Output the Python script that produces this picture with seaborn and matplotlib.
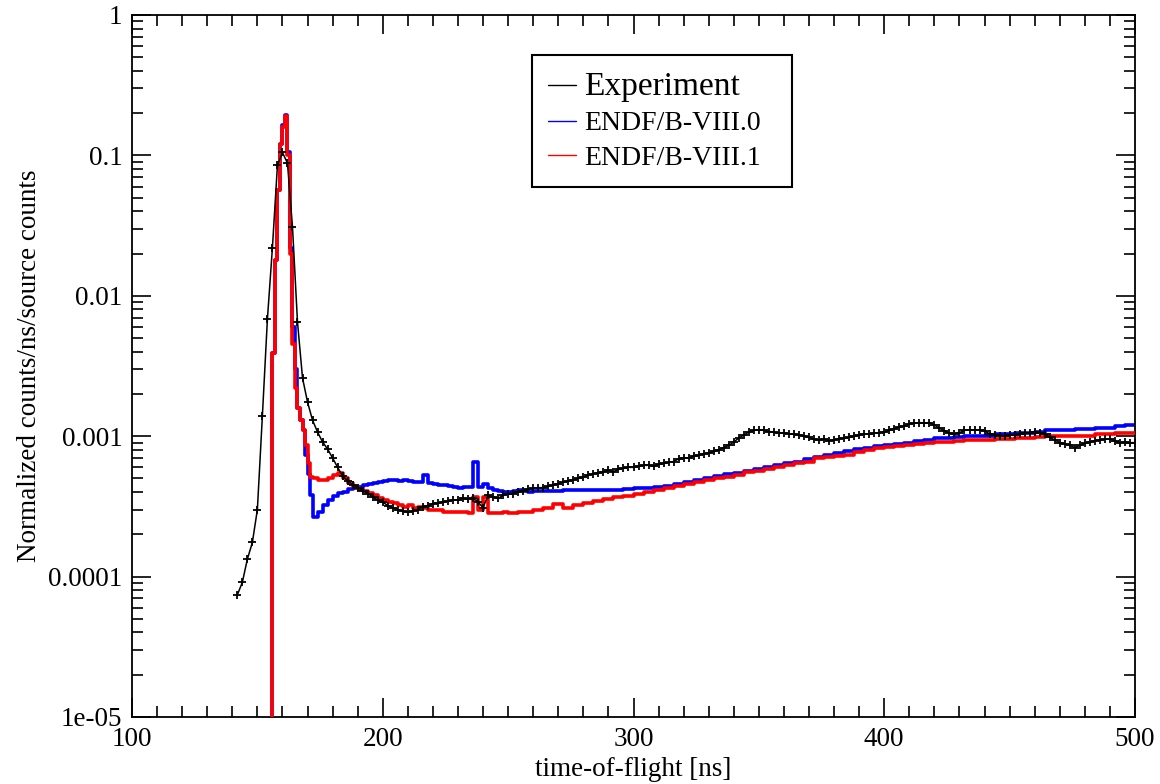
import numpy as np
import pandas as pd
import matplotlib
matplotlib.use("Agg")
import matplotlib.pyplot as plt
from matplotlib.lines import Line2D
from matplotlib.ticker import FixedLocator, MultipleLocator, LogLocator, NullFormatter, FuncFormatter
import seaborn as sns

# ---------------- data ----------------
# Experiment: 2 ns spacing, 142 .. 500 ns
exp_x = np.arange(142, 501, 2)
exp_y = [
    7.4e-5, 9.1e-5, 1.33e-4, 1.75e-4, 3.0e-4, 1.4e-3, 6.8e-3, 0.022, 0.085, 0.105,
    0.088, 0.031, 0.0065, 0.0026, 0.00175, 0.0013, 0.00107, 0.00091, 0.00081, 0.0007,
    0.0006, 0.00052, 0.00048, 0.00045, 0.00043, 0.00041, 0.00039, 0.00037, 0.00035, 0.00034,
    0.00032, 0.00031, 0.0003, 0.000292, 0.000287, 0.000295, 0.0003, 0.000315, 0.00032, 0.00033,
    0.000335, 0.00034, 0.000345, 0.00035, 0.000352, 0.00036, 0.000358, 0.000362, 0.00034, 0.00031,
    0.00038, 0.00037, 0.00036, 0.00038, 0.00039, 0.00039, 0.0004, 0.00041, 0.00042, 0.000425,
    0.00043, 0.00043, 0.00044, 0.00045, 0.00046, 0.00047, 0.00048, 0.00049, 0.0005, 0.00051,
    0.00053, 0.00054, 0.00055, 0.00056, 0.00057, 0.00056, 0.00058, 0.00059, 0.0006, 0.0006,
    0.00061, 0.00062, 0.00062, 0.00061, 0.00063, 0.00064, 0.00065, 0.00066, 0.00069, 0.0007,
    0.0007, 0.00072, 0.00073, 0.00075, 0.00076, 0.00078, 0.0008, 0.00083, 0.00086, 0.00091,
    0.00097, 0.00102, 0.00107, 0.0011, 0.00111, 0.0011, 0.00108, 0.00107, 0.00105, 0.00106,
    0.00104, 0.00103, 0.00102, 0.001, 0.00098, 0.00095, 0.00094, 0.00095, 0.00093, 0.00094,
    0.00096, 0.00097, 0.00098, 0.001, 0.00102, 0.00104, 0.00103, 0.00105, 0.00106, 0.00107,
    0.0011, 0.00113, 0.00116, 0.00118, 0.00122, 0.00124, 0.00125, 0.00124, 0.00125, 0.0012,
    0.00114, 0.00109, 0.00105, 0.00104, 0.00106, 0.0011, 0.00111, 0.0011, 0.00111, 0.00109,
    0.00104, 0.00102, 0.00101, 0.00101, 0.00102, 0.00102, 0.00104, 0.00106, 0.00105, 0.00107,
    0.00105, 0.00104, 0.00098, 0.00094, 0.0009, 0.00088, 0.00086, 0.00083, 0.00086, 0.00089,
    0.00091, 0.00093, 0.00094, 0.00095, 0.00096, 0.00092, 0.0009, 0.00091, 0.0009, 0.0009,
]

# Simulation histograms: bin left edges (1 ns, 2 ns, 4 ns widths), last edge 500 ns
bins_1ns = np.arange(155, 172, 1)
bins_2ns = np.arange(172, 260, 2)
bins_4ns = np.arange(260, 500, 4)
last_edge = 500

b80_1ns = [0, 0.0039, 0.018, 0.057, 0.12, 0.165, 0.195, 0.105, 0.022, 0.006, 0.003,
           0.0016, 0.0013, 0.0011, 0.00073, 0.00054, 0.00038]
b80_2ns = [0.000264, 0.00029, 0.000322, 0.000349, 0.000373, 0.000392, 0.000398, 0.000418, 0.000425, 0.000432,
           0.000447, 0.000455, 0.000462, 0.000469, 0.000477, 0.000485, 0.000485, 0.000477, 0.000485, 0.000477,
           0.000469, 0.000469, 0.000527, 0.000462, 0.000455, 0.000447, 0.000447, 0.00044, 0.000432, 0.000425,
           0.000432, 0.000432, 0.00065, 0.000432, 0.00046, 0.000425, 0.000412, 0.000405, 0.000398, 0.000398,
           0.000405, 0.000412, 0.000405, 0.000398]
b80_4ns = [0.000405, 0.000405, 0.000405, 0.000412, 0.000412, 0.000412, 0.000412, 0.000412, 0.000412, 0.000418,
           0.000425, 0.000425, 0.000432, 0.00044, 0.000455, 0.000469, 0.000485, 0.0005, 0.000518, 0.000535,
           0.000544, 0.000562, 0.00058, 0.0006, 0.00062, 0.000641, 0.00066, 0.000685, 0.000707, 0.000731,
           0.000755, 0.00078, 0.000807, 0.00082, 0.000847, 0.000861, 0.000876, 0.00089, 0.00092, 0.000935,
           0.000966, 0.000966, 0.000982, 0.000998, 0.000998, 0.00101, 0.00103, 0.00103, 0.00105, 0.00105,
           0.00107, 0.0011, 0.0011, 0.0011, 0.00112, 0.00112, 0.00114, 0.00114, 0.00118, 0.0012]

b81_1ns = [0, 0.0039, 0.018, 0.057, 0.12, 0.16, 0.19, 0.10, 0.02, 0.0045, 0.0022,
           0.0016, 0.0013, 0.0011, 0.00086, 0.00064, 0.00051]
b81_2ns = [0.0005, 0.000485, 0.000485, 0.0005, 0.000527, 0.000544, 0.0005, 0.000462, 0.000432, 0.00042,
           0.00041, 0.000392, 0.000379, 0.000361, 0.000349, 0.000338, 0.000333, 0.000322, 0.000311, 0.000322,
           0.000306, 0.000311, 0.000306, 0.000296, 0.000296, 0.000296, 0.000287, 0.000287, 0.000287, 0.000287,
           0.000287, 0.000282, 0.000367, 0.000296, 0.000367, 0.000282, 0.000282, 0.000282, 0.000287, 0.000282,
           0.000282, 0.000287, 0.000287, 0.000287]
b81_4ns = [0.0003, 0.000306, 0.000327, 0.000306, 0.000322, 0.000333, 0.000343, 0.000355, 0.000367, 0.000373,
           0.000385, 0.000398, 0.000412, 0.000425, 0.00044, 0.000455, 0.000469, 0.000485, 0.0005, 0.000509,
           0.000527, 0.000553, 0.000562, 0.00058, 0.0006, 0.00062, 0.000641, 0.00066, 0.000696, 0.000707,
           0.000719, 0.00074, 0.00077, 0.000794, 0.00082, 0.000834, 0.000847, 0.000861, 0.000876, 0.00089,
           0.000905, 0.000905, 0.00092, 0.000935, 0.000935, 0.000935, 0.00095, 0.00095, 0.000966, 0.000966,
           0.000982, 0.00101, 0.00101, 0.00101, 0.00101, 0.00101, 0.00103, 0.00103, 0.00105, 0.00105]

series_labels = ["Experiment", "ENDF/B-VIII.0", "ENDF/B-VIII.1"]
series_colors = ["black", "#0000ff", "#ff0000"]
ytick_vals = [1e-5, 1e-4, 1e-3, 1e-2, 1e-1, 1]
ytick_labels = ["1e-05", "0.0001", "0.001", "0.01", "0.1", "1"]
xtick_vals = [100, 200, 300, 400, 500]

assert len(exp_y) == len(exp_x)
edges = np.concatenate([bins_1ns, bins_2ns, bins_4ns])


def step_frame(v1, v2, v4):
    vals = list(v1) + list(v2) + list(v4)
    assert len(vals) == len(edges), (len(vals), len(edges))
    x = np.append(edges, last_edge)
    y = vals + [vals[-1]]
    return pd.DataFrame({"x": x, "y": y})


df80 = step_frame(b80_1ns, b80_2ns, b80_4ns)
df81 = step_frame(b81_1ns, b81_2ns, b81_4ns)
dfe = pd.DataFrame({"x": exp_x, "y": exp_y})

# ---------------- plot ----------------
sns.set_theme(style="ticks")
plt.rcParams["font.family"] = ["Liberation Serif", "DejaVu Serif"]
plt.rcParams["text.color"] = "black"
plt.rcParams["axes.labelcolor"] = "black"

fig = plt.figure(figsize=(11.6, 7.84), dpi=100)
ax = fig.add_axes([132 / 1160, 67 / 784, 1003 / 1160, 702 / 784])

sns.lineplot(data=df80, x="x", y="y", ax=ax, color=series_colors[1], lw=2.6,
             drawstyle="steps-post", estimator=None, sort=False, zorder=2)
sns.lineplot(data=df81, x="x", y="y", ax=ax, color=series_colors[2], lw=2.6,
             drawstyle="steps-post", estimator=None, sort=False, zorder=3)
sns.lineplot(data=dfe, x="x", y="y", ax=ax, color=series_colors[0], lw=1.1,
             marker="+", markersize=6, markeredgewidth=1.3, markeredgecolor="black",
             markerfacecolor="black", estimator=None, sort=False, zorder=4)

ax.set_yscale("log", nonpositive="clip")
ax.set_xlim(100, 500)
ax.set_ylim(1e-5, 1)

ax.xaxis.set_major_locator(FixedLocator(xtick_vals))
ax.xaxis.set_minor_locator(MultipleLocator(10))
ax.yaxis.set_major_locator(FixedLocator(ytick_vals))
ax.yaxis.set_minor_locator(LogLocator(base=10, subs=np.arange(2, 10), numticks=20))
ax.yaxis.set_minor_formatter(NullFormatter())
ax.yaxis.set_major_formatter(FuncFormatter(
    lambda v, p: ytick_labels[int(np.argmin(np.abs(np.log10(ytick_vals) - np.log10(v))))]))

ax.tick_params(which="both", direction="in", top=True, right=True, color="black", width=1.2)
ax.tick_params(which="major", length=14, labelsize=19.5, pad=7, labelcolor="black")
ax.tick_params(which="minor", length=8)
for s in ax.spines.values():
    s.set_color("black")
    s.set_linewidth(1.3)

ax.set_xlabel("time-of-flight [ns]", fontsize=19.5, color="black", labelpad=4)
ax.set_ylabel("Normalized counts/ns/source counts", fontsize=19.5, color="black", labelpad=4)
ax.grid(False)

handles = [Line2D([], [], color=c, lw=1.0) for c in series_colors]
leg = ax.legend(handles, series_labels, loc="upper left",
                bbox_to_anchor=(0.399, 0.943, 0.259, 0.0), mode="expand",
                borderaxespad=0.0, frameon=True, fancybox=False, edgecolor="black", framealpha=1,
                handlelength=1.0, handletextpad=0.3, borderpad=0.58, labelspacing=0.33,
                prop={"size": 20})
leg.get_frame().set_linewidth(1.5)
for t in leg.get_texts():
    t.set_color("black")
leg.get_texts()[0].set_fontsize(24)

fig.savefig("out.png", dpi=100)
